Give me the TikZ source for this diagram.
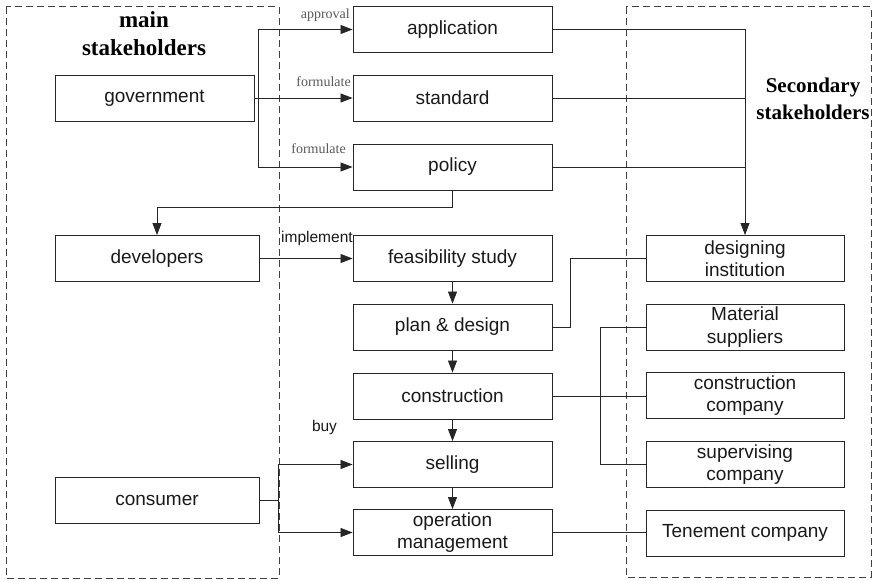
\documentclass[tikz,border=0pt]{standalone}
\usepackage{fontspec}
\setmainfont{Liberation Sans}
\newfontfamily\titleserif{Liberation Serif}
\usetikzlibrary{arrows.meta}

\begin{document}
\begin{tikzpicture}[x=1pt, y=-1pt,
  stagebox/.style={draw=black!85, line width=0.9pt, minimum width=199pt,
    minimum height=46pt, inner sep=0pt, align=center, text=black!90,
    font=\fontsize{19}{22.5}\selectfont},
  groupframe/.style={draw=black!75, line width=1pt, dash pattern=on 7pt off 4pt},
  link/.style={draw=black!85, line width=0.8pt},
  arr/.style={link, -{Triangle[length=12pt,width=9pt]}},
  grouptitle/.style={align=center, font=\titleserif\bfseries\fontsize{23}{28}\selectfont},
  actserif/.style={text=black!65, inner sep=0pt, font=\titleserif\fontsize{14}{16}\selectfont},
  actsans/.style={text=black!90, inner sep=0pt, font=\fontsize{15.5}{17}\selectfont}
]
\useasboundingbox (0,0) rectangle (874,580);

% stakeholder groups
\draw[groupframe] (6,7) rectangle (279,578);
\draw[groupframe] (626,7) rectangle (871,577);
\node[grouptitle] (maintitle) at (144,34) {main\\stakeholders};
\node[grouptitle, font=\titleserif\bfseries\fontsize{21}{27}\selectfont] (sectitle) at (813,99) {Secondary\\stakeholders};

% main stakeholders
\node[stagebox, minimum width=199pt] (gov) at (154.5,98) {government};
\node[stagebox, minimum width=204pt] (dev) at (157,258.5) {developers};
\node[stagebox, minimum width=204pt] (con) at (157,500.5) {consumer};

% project stages
\node[stagebox] (app)  at (452.5,29.5)  {application};
\node[stagebox] (std)  at (452.5,98)    {standard};
\node[stagebox] (pol)  at (452.5,167)   {policy};
\node[stagebox] (feas) at (452.5,258.5) {feasibility study};
\node[stagebox] (plan) at (452.5,327)   {plan \& design};
\node[stagebox] (cons) at (452.5,396)   {construction};
\node[stagebox] (sell) at (452.5,464.5) {selling};
\node[stagebox] (oper) at (452.5,532.5) {operation\\management};

% secondary stakeholders
\node[stagebox, minimum width=198pt] (des) at (745,258.5) {designing\\institution};
\node[stagebox, minimum width=198pt] (mat) at (745,327)   {Material\\suppliers};
\node[stagebox, minimum width=198pt] (cco) at (745,395.5) {construction\\company};
\node[stagebox, minimum width=198pt] (sup) at (745,464.5) {supervising\\company};
\node[stagebox, minimum width=198pt] (ten) at (745,533)   {Tenement company};

% government issues documents
\draw[arr] (gov.east) -- ++(4,0) |- (app.west);
\draw[arr] (gov.east) -- (std.west);
\draw[arr] (gov.east) -- ++(4,0) |- (pol.west);
\node[actserif, anchor=east] (lapp) at (350,15) {approval};
\node[actserif, anchor=east] (lstd) at (351,82) {formulate};
\node[actserif, anchor=east] (lpol) at (346,149) {formulate};

% documents reach the designing institution
\draw[link] (std.east) -- (std.east -| des.north);
\draw[link] (pol.east) -- (pol.east -| des.north);
\draw[arr] (app.east) -| (des.north);

% policy guides developers
\draw[arr] (pol.south) -- ++(0,17) -| (dev.north);

% developers implement the project
\draw[arr] (dev.east) -- (feas.west);
\node[actsans, anchor=west] (limp) at (281,238) {implement};

% stage sequence
\draw[arr] (feas.south) -- (plan.north);
\draw[arr] (plan.south) -- (cons.north);
\draw[arr] (cons.south) -- (sell.north);
\draw[arr] (sell.south) -- (oper.north);

% stages and secondary stakeholders
\draw[link] (plan.east) -- ++(18,0) |- (des.west);
\draw[link] (cons.east) -- (cons.east -| cco.west);
\draw[link] (mat.west) -- ++(-45,0) |- (sup.west);
\draw[link] (oper.east) -- (oper.east -| ten.west);

% consumer
\draw[arr] (con.east) -- ++(19,0) |- (sell.west);
\draw[arr] (con.east) -- ++(19,0) |- (oper.west);
\node[actsans] (lbuy) at (324.5,427) {buy};
\end{tikzpicture}
\end{document}
